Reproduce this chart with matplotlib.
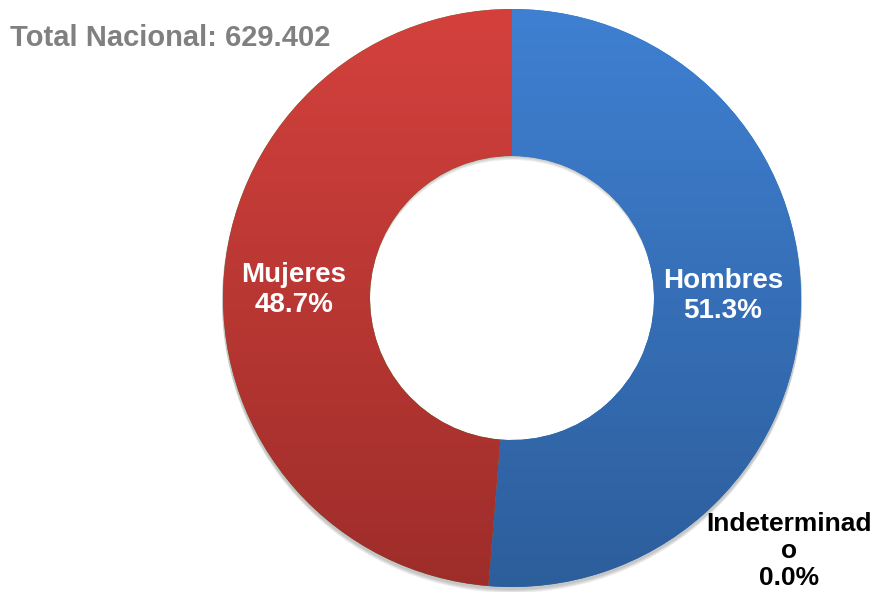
import matplotlib
matplotlib.use('Agg')
import matplotlib.pyplot as plt
import numpy as np
from matplotlib.colors import LinearSegmentedColormap
from matplotlib.patches import Wedge

labels = ['Hombres', 'Indeterminado', 'Mujeres']
shares = [51.3, 0.0, 48.7]
title = 'Total Nacional: 629.402'

# top / bottom colours of each slice gradient
top_col = ['#3f80d2', '#808080', '#d4413d']
bot_col = ['#2d5e9c', '#808080', '#9e2d2a']

cx, cy, r = 512, 294, 289
ring = 147

fig = plt.figure(figsize=(8.74, 5.92), dpi=100)
ax = fig.add_axes([0, 0, 1, 1])

# soft shadow under the ring
for k in range(4):
    ax.add_patch(Wedge((cx, cy - 2 - k), r + 1, 0, 360, width=ring,
                       facecolor='black', alpha=0.06, lw=0, zorder=1))

wedges, _ = ax.pie(shares, startangle=90, counterclock=False, center=(cx, cy),
                   radius=r, wedgeprops=dict(width=ring, lw=0), frame=True)
ax.set_xlim(0, 874)
ax.set_ylim(0, 592)
ax.axis('off')

grad = np.linspace(1, 0, 256).reshape(-1, 1)
for w, t, b in zip(wedges, top_col, bot_col):
    w.set_zorder(2)
    cm = LinearSegmentedColormap.from_list('g', [b, t])
    im = ax.imshow(grad, cmap=cm, extent=(cx - r, cx + r, cy - r, cy + r),
                   aspect='auto', zorder=3, vmin=0, vmax=1)
    im.set_clip_path(w)

font = 'Liberation Sans'
ax.text(723, 592 - 296, 'Hombres\n%.1f%%' % shares[0], color='white', fontsize=20,
        fontweight='bold', family=font, ha='center', va='center',
        linespacing=1.18, zorder=5)
ax.text(294, 592 - 290, 'Mujeres\n%.1f%%' % shares[2], color='white', fontsize=20,
        fontweight='bold', family=font, ha='center', va='center',
        linespacing=1.22, zorder=5)
ax.text(789, 592 - 551, 'Indeterminad\no\n%.1f%%' % shares[1], color='black',
        fontsize=19, fontweight='bold', family=font, ha='center', va='center',
        linespacing=1.15, zorder=5)
ax.text(10, 592 - 38, title, color='#808080', fontsize=21, fontweight='bold',
        family=font, ha='left', va='center', zorder=5)

fig.savefig('out.png', dpi=100)
